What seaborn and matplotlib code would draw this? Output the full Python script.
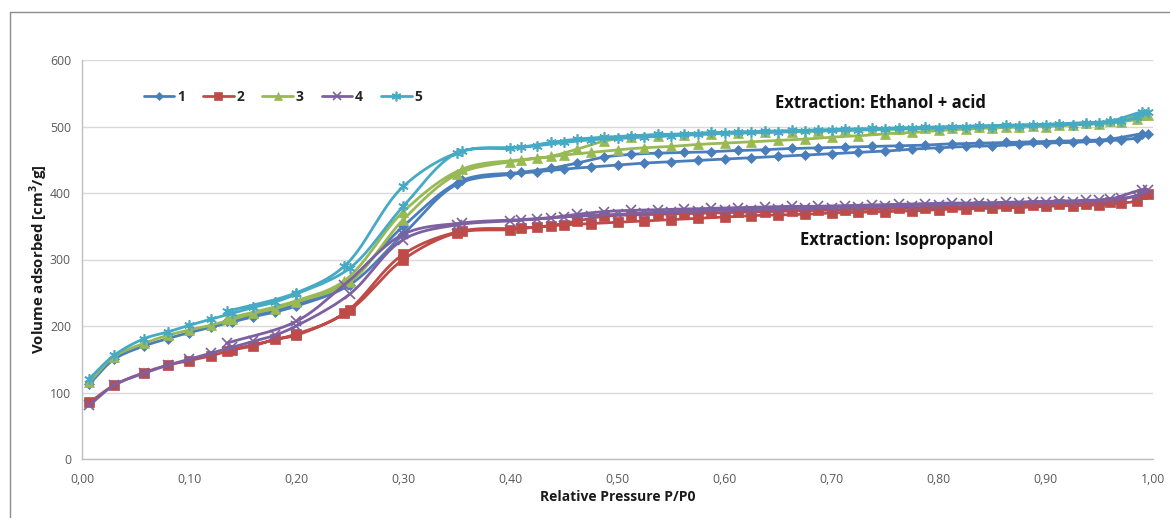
import numpy as np
import matplotlib
matplotlib.use("Agg")
import matplotlib.pyplot as plt
from matplotlib.lines import Line2D
import seaborn as sns

# ---------------- data ----------------
P_ADS = [0.007, 0.03, 0.058, 0.08, 0.10, 0.12, 0.14, 0.16, 0.18, 0.20, 0.25, 0.30, 0.35,
         0.40, 0.425, 0.45, 0.475, 0.50, 0.525, 0.55, 0.575, 0.60, 0.625, 0.65, 0.675,
         0.70, 0.725, 0.75, 0.775, 0.80, 0.825, 0.85, 0.875, 0.90, 0.925, 0.95, 0.97,
         0.985, 0.995]
P_DES = [0.99, 0.96, 0.9375, 0.9125, 0.8875, 0.8625, 0.8375, 0.8125, 0.7875, 0.7625,
         0.7375, 0.7125, 0.6875, 0.6625, 0.6375, 0.6125, 0.5875, 0.5625, 0.5375, 0.5125,
         0.4875, 0.4625, 0.4375, 0.41, 0.355, 0.30, 0.245, 0.20, 0.135]

ADS_1 = [113, 150, 170, 181, 190, 198, 206, 214, 221, 230, 262, 338, 413,
         428, 432, 436, 439, 442, 445, 447, 449, 451, 453, 455, 457,
         459, 461, 463, 466, 468, 470, 471, 473, 475, 476, 478, 480, 483, 489]
DES_1 = [489, 481, 479, 478, 477, 476, 475, 474, 472, 471, 470, 469, 468, 467, 465,
         464, 462, 461, 460, 458, 454, 445, 437, 431, 419, 350, 263, 232, 207]

ADS_2 = [85, 111, 130, 141, 148, 155, 164, 170, 180, 186, 224, 300, 340,
         345, 349, 352, 354, 356, 358, 360, 362, 364, 366, 367, 368,
         370, 371, 372, 373, 375, 376, 377, 378, 380, 381, 382, 385, 388, 398]
DES_2 = [398, 386, 384, 383, 382, 381, 380, 379, 378, 377, 376, 375, 374, 373, 372,
         371, 370, 369, 368, 367, 365, 358, 351, 347, 343, 308, 219, 188, 163]

ADS_3 = [116, 154, 174, 186, 194, 201, 210, 219, 226, 236, 266, 360, 428,
         447, 452, 457, 461, 465, 468, 470, 473, 475, 477, 479, 481,
         484, 486, 489, 491, 494, 496, 498, 499, 500, 502, 504, 507, 511, 518]
DES_3 = [518, 508, 505, 503, 501, 500, 499, 498, 497, 496, 495, 494, 493, 492, 491,
         490, 489, 487, 486, 484, 478, 466, 455, 450, 436, 372, 268, 238, 211]

ADS_4 = [81, 111, 129, 141, 150, 159, 168, 177, 186, 200, 248, 330, 352,
         358, 361, 364, 366, 368, 370, 371, 373, 374, 375, 376, 377,
         378, 379, 380, 381, 382, 383, 384, 385, 386, 387, 389, 392, 396, 405]
DES_4 = [405, 391, 389, 388, 387, 386, 385, 385, 384, 383, 382, 381, 380, 380, 379,
         378, 377, 376, 375, 374, 372, 368, 363, 360, 355, 338, 262, 207, 174]

ADS_5 = [121, 156, 181, 191, 201, 210, 219, 228, 236, 248, 287, 380, 460,
         467, 471, 476, 480, 482, 484, 486, 488, 490, 491, 492, 493,
         494, 495, 496, 497, 498, 499, 500, 501, 502, 503, 505, 508, 514, 522]
DES_5 = [522, 508, 506, 504, 503, 502, 501, 500, 499, 498, 497, 496, 495, 494, 493,
         492, 491, 489, 488, 486, 484, 481, 476, 469, 463, 410, 290, 250, 222]

SERIES_NAMES = ["1", "2", "3", "4", "5"]
ADS = [ADS_1, ADS_2, ADS_3, ADS_4, ADS_5]
DES = [DES_1, DES_2, DES_3, DES_4, DES_5]

X_TICKS = [0.0, 0.1, 0.2, 0.3, 0.4, 0.5, 0.6, 0.7, 0.8, 0.9, 1.0]
X_TICKLABELS = ["0,00", "0,10", "0,20", "0,30", "0,40", "0,50", "0,60", "0,70", "0,80", "0,90", "1,00"]
Y_TICKS = [0, 100, 200, 300, 400, 500, 600]
LABEL_ETH = "Extraction: Ethanol + acid"
LABEL_ISO = "Extraction: Isopropanol"

# ---------------- style ----------------
COLORS = ["#4A7EBB", "#BE4B48", "#98B954", "#7D60A0", "#46AAC5"]
MARKERS = ["D", "s", "^", "x", (6, 2, 0)]
MSIZES = [5.0, 6.5, 6.5, 6.5, 7.5]

sns.set_theme(style="white")
plt.rcParams["font.family"] = ["Open Sans", "DejaVu Sans"]
plt.rcParams["mathtext.fontset"] = "custom"
plt.rcParams["mathtext.rm"] = "Open Sans"
plt.rcParams["mathtext.bf"] = "Open Sans:bold"

fig = plt.figure(figsize=(11.70, 5.18), dpi=100)
ax = fig.add_axes([82 / 1170, 1 - 459 / 518, (1153 - 82) / 1170, (459 - 60) / 518])

SX, SY = 1071.0, 0.665


def smooth(x, y, n=12):
    """Centripetal Catmull-Rom rendering (like Excel's smoothed line)."""
    P = np.column_stack([np.asarray(x, float) * SX, np.asarray(y, float) * SY])
    P = np.vstack([2 * P[0] - P[1], P, 2 * P[-1] - P[-2]])
    out = []
    for i in range(1, len(P) - 2):
        p0, p1, p2, p3 = P[i - 1], P[i], P[i + 1], P[i + 2]

        def tj(ti, a, b):
            return ti + max(np.linalg.norm(b - a), 1e-6) ** 0.5

        t0 = 0.0
        t1 = tj(t0, p0, p1)
        t2 = tj(t1, p1, p2)
        t3 = tj(t2, p2, p3)
        t = np.linspace(t1, t2, n)[:, None]
        A1 = (t1 - t) / (t1 - t0) * p0 + (t - t0) / (t1 - t0) * p1
        A2 = (t2 - t) / (t2 - t1) * p1 + (t - t1) / (t2 - t1) * p2
        A3 = (t3 - t) / (t3 - t2) * p2 + (t - t2) / (t3 - t2) * p3
        B1 = (t2 - t) / (t2 - t0) * A1 + (t - t0) / (t2 - t0) * A2
        B2 = (t3 - t) / (t3 - t1) * A2 + (t - t1) / (t3 - t1) * A3
        C = (t2 - t) / (t2 - t1) * B1 + (t - t1) / (t2 - t1) * B2
        out.append(C if i == len(P) - 3 else C[:-1])
    C = np.vstack(out)
    return C[:, 0] / SX, C[:, 1] / SY


for k in range(5):
    xs = list(P_ADS) + list(P_DES)
    ys = list(ADS[k]) + list(DES[k])
    lx, ly = smooth(xs, ys)
    sns.lineplot(x=lx, y=ly, ax=ax, sort=False, estimator=None, color=COLORS[k],
                 lw=2.0, zorder=3 + k)
    mk = MARKERS[k]
    unfilled = mk in ("x",) or isinstance(mk, tuple)
    sns.lineplot(x=xs, y=ys, ax=ax, sort=False, estimator=None, color=COLORS[k],
                 linestyle="none", marker=mk, markersize=MSIZES[k],
                 markeredgewidth=1.2 if unfilled else 0.5,
                 markeredgecolor=COLORS[k], zorder=3 + k)

ax.set_xlim(0, 1.0)
ax.set_ylim(0, 600)
ax.set_xticks(X_TICKS)
ax.set_xticklabels(X_TICKLABELS)
ax.set_yticks(Y_TICKS)
ax.yaxis.grid(True, color="#D9D9D9", lw=1.0)
ax.xaxis.grid(False)
ax.set_axisbelow(True)
for s in ["top", "right"]:
    ax.spines[s].set_visible(False)
for s in ["left", "bottom"]:
    ax.spines[s].set_color("#BFBFBF")
    ax.spines[s].set_linewidth(1.0)
ax.tick_params(axis="both", which="major", direction="out", length=4, width=1.0,
               color="#BFBFBF", labelsize=8.8, labelcolor="#595959", pad=4)
ax.tick_params(axis="x", pad=6)

ax.set_xlabel("Relative Pressure P/P0", fontsize=10, fontweight="bold", color="#1a1a1a", labelpad=3)
ax.set_ylabel("Volume adsorbed [cm$^\\mathbf{3}$/g]", fontsize=10.8, fontweight="bold",
              color="#1a1a1a", labelpad=0)

ax.text(0.647, 535, LABEL_ETH, fontsize=12, fontweight="bold", color="#111111",
        va="center", ha="left")
ax.text(0.670, 329, LABEL_ISO, fontsize=12, fontweight="bold", color="#111111",
        va="center", ha="left")

handles = [Line2D([0], [0], color=COLORS[k], lw=2.0, marker=MARKERS[k],
                  markersize=MSIZES[k] - 0.5, markeredgecolor=COLORS[k],
                  markeredgewidth=1.2 if (MARKERS[k] == "x" or isinstance(MARKERS[k], tuple)) else 0.5)
           for k in range(5)]
leg = ax.legend(handles, SERIES_NAMES, loc="center left", bbox_to_anchor=(0.046, 0.907),
                ncol=5, frameon=False, handlelength=2.2, handletextpad=0.2,
                columnspacing=1.3, prop={"weight": "bold", "size": 10})

# outer chart-area frame
fig.add_artist(Line2D([9.5 / 1170, 9.5 / 1170], [0, 1 - 12 / 518], transform=fig.transFigure,
                      color="#8C8C8C", lw=1.0))
fig.add_artist(Line2D([9.5 / 1170, 1], [1 - 12 / 518, 1 - 12 / 518], transform=fig.transFigure,
                      color="#8C8C8C", lw=1.0))

fig.savefig("out.png", dpi=100, facecolor="white")
